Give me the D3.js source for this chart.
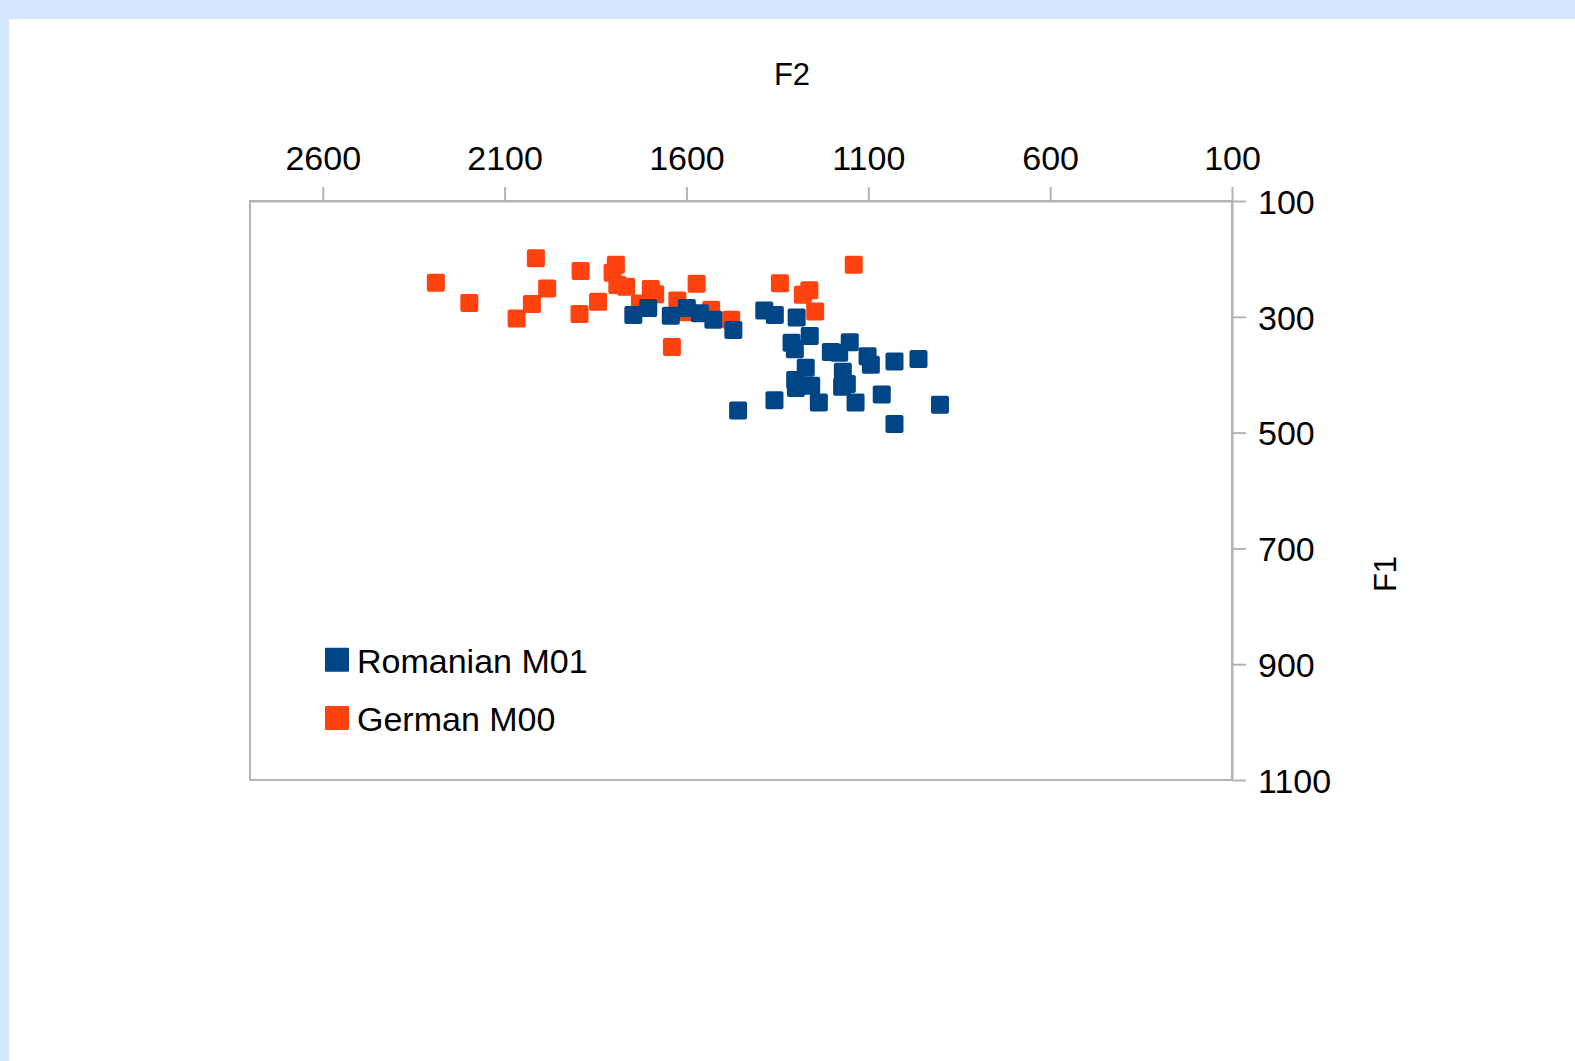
<!DOCTYPE html>
<html>
<head>
<meta charset="utf-8">
<script src="https://cdn.jsdelivr.net/npm/d3@7"></script>
<style>
  html, body { margin: 0; padding: 0; background: #d5e5fc; }
  svg { display: block; }
</style>
</head>
<body>
<svg id="chart" width="1575" height="1061"></svg>
<script>
// ---- Data (F2 = x, F1 = y, in Hz) ----
const seriesNames = ["Romanian M01", "German M00"];
const romanianF2 = [1746, 1705, 1643, 1599, 1563, 1526, 1471, 1386, 1357, 1297, 1261, 1311, 1302, 1203, 1180, 1151, 1102, 1093, 1028, 962, 1272, 1170, 1301, 1299, 1257, 1172, 1159, 1236, 1135, 1063, 1358, 1458, 1028, 903];
const romanianF1 = [297, 285, 298, 285, 294, 305, 323, 289, 297, 301, 333, 345, 356, 361, 362, 344, 368, 383, 377, 373, 388, 395, 409, 423, 419, 421, 416, 448, 448, 434, 444, 462, 485, 452];
const germanF2 = [2289, 2197, 2014, 1983, 2025, 2067, 1891, 1894, 1843, 1794, 1803, 1790, 1766, 1698, 1686, 1728, 1625, 1596, 1572, 1640, 1532, 1477, 1343, 1262, 1280, 1246, 1140];
const germanF1 = [241, 276, 199, 251, 278, 303, 221, 295, 274, 210, 224, 245, 248, 252, 261, 277, 272, 292, 243, 352, 288, 305, 242, 254, 262, 291, 210];
const xTicks = [2600, 2100, 1600, 1100, 600, 100];
const yTicks = [100, 300, 500, 700, 900, 1100];
const xTitle = "F2";
const yTitle = "F1";

const colors = ["#004586", "#ff420e"];
const axisColor = "#b3b3b3";
const font = "'Liberation Sans', Arial, sans-serif";

const svg = d3.select("#chart");
// white page area
svg.append("rect").attr("x", 9).attr("y", 19).attr("width", 1575 - 9).attr("height", 1061 - 19).attr("fill", "#ffffff");

const plotL = 250, plotR = 1232, plotT = 201, plotB = 780;
const x = d3.scaleLinear().domain([2800, 100]).range([plotL, plotR]);
const y = d3.scaleLinear().domain([100, 1100]).range([plotT, plotB]);

// plot frame
svg.append("rect").attr("x", plotL).attr("y", plotT).attr("width", plotR - plotL).attr("height", plotB - plotT)
  .attr("fill", "none").attr("stroke", axisColor).attr("stroke-width", 2);

// top axis
const xAxis = d3.axisTop(x).tickValues(xTicks).tickSizeInner(14).tickSizeOuter(0).tickPadding(17).tickFormat(d3.format("d"));
const gx = svg.append("g").attr("transform", `translate(0,${plotT})`).call(xAxis);
gx.select(".domain").attr("stroke", axisColor).attr("stroke-width", 2);
gx.selectAll(".tick line").attr("stroke", axisColor).attr("stroke-width", 2);
gx.selectAll(".tick text").attr("fill", "#000").style("font-family", font).style("font-size", "34px");

// right axis
const yAxis = d3.axisRight(y).tickValues(yTicks).tickSizeInner(14).tickSizeOuter(0).tickPadding(12).tickFormat(d3.format("d"));
const gy = svg.append("g").attr("transform", `translate(${plotR},0)`).call(yAxis);
gy.select(".domain").attr("stroke", axisColor).attr("stroke-width", 2);
gy.selectAll(".tick line").attr("stroke", axisColor).attr("stroke-width", 2);
gy.selectAll(".tick text").attr("fill", "#000").style("font-family", font).style("font-size", "34px").attr("dy", "0.36em");

// titles
svg.append("text").attr("x", 792).attr("y", 85).attr("text-anchor", "middle")
  .style("font-family", font).style("font-size", "31px").attr("fill", "#000").text(xTitle);
svg.append("text").attr("transform", "translate(1396,574) rotate(-90)").attr("text-anchor", "middle")
  .style("font-family", font).style("font-size", "31px").attr("fill", "#000").text(yTitle);

// points
const size = 18;
function drawSeries(xs, ys, color) {
  const pts = xs.map((v, i) => ({ f2: v, f1: ys[i] }));
  svg.append("g").selectAll("rect").data(pts).join("rect")
    .attr("x", d => x(d.f2) - size / 2)
    .attr("y", d => y(d.f1) - size / 2)
    .attr("width", size).attr("height", size).attr("rx", 2)
    .attr("fill", color);
}
drawSeries(germanF2, germanF1, colors[1]);
drawSeries(romanianF2, romanianF1, colors[0]);

// legend
const legend = svg.append("g");
seriesNames.forEach((name, i) => {
  const ly = 647.7 + i * 58.3;
  legend.append("rect").attr("x", 325).attr("y", ly).attr("width", 24).attr("height", 24).attr("rx", 1).attr("fill", colors[i]);
  legend.append("text").attr("x", 357).attr("y", ly + 25).style("font-family", font).style("font-size", "34px")
    .attr("fill", "#000").text(name);
});
</script>
</body>
</html>
